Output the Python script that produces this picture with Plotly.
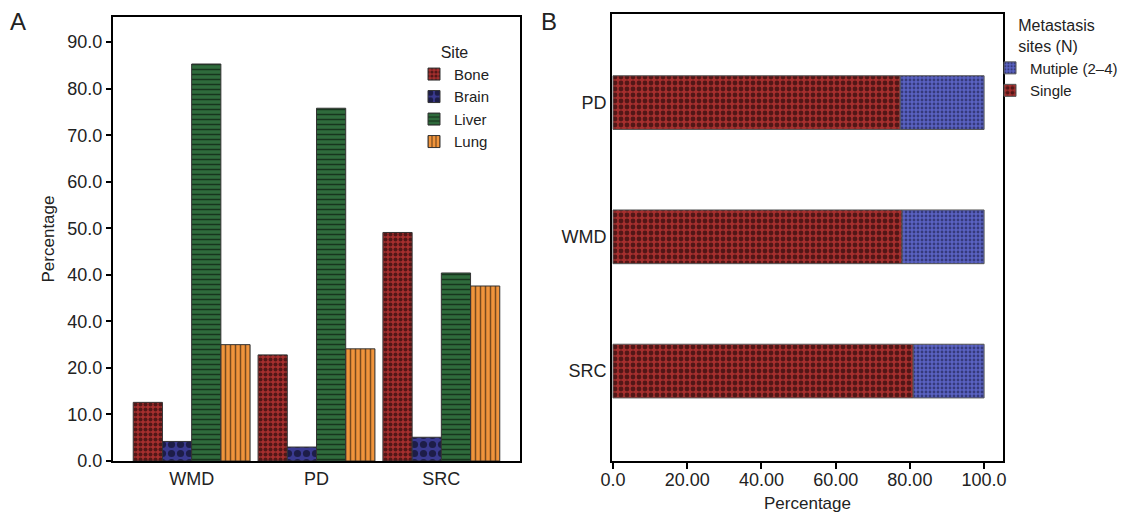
import plotly.graph_objects as go

# ---------------- data ----------------
groups_a = ["WMD", "PD", "SRC"]
bone = [12.6, 22.8, 49.1]
brain = [4.2, 3.0, 5.1]
liver = [85.3, 75.8, 40.4]
lung = [25.0, 24.1, 37.6]
y_tickvals_a = [0, 10, 20, 30, 40, 50, 60, 70, 80, 90]
y_ticktext_a = ["0.0", "10.0", "20.0", "40.0", "40.0", "50.0", "60.0", "70.0", "80.0", "90.0"]

groups_b = ["SRC", "WMD", "PD"]
single = [80.9, 77.9, 77.4]
multiple = [19.1, 22.1, 22.6]
x_tickvals_b = [0, 20, 40, 60, 80, 100]
x_ticktext_b = ["0.0", "20.00", "40.00", "60.00", "80.00", "100.0"]

OFF = 8  # page body margin
W, H = 1135 - OFF, 517 - OFF
FONT = "Liberation Sans, Arial, sans-serif"
TXT = "#222222"


def fx(p):
    return (p - OFF) / W


def fy(p):
    return 1 - (p - OFF) / H


def px_x(a, b):
    return [fx(a), fx(b)]


def px_y(top, bottom):
    return [fy(bottom), fy(top)]


fig = go.Figure()

site_styles = [
    ("Bone", bone, "#a52f2e", ".", 5, 0.5),
    ("Brain", brain, "#3a3a90", ".", 9, 0.5),
    ("Liver", liver, "#2f6b3c", "-", 5, 0.3),
    ("Lung", lung, "#f0943c", "|", 5, 0.3),
]
for name, vals, col, shape, size, sol in site_styles:
    fig.add_trace(go.Bar(
        x=groups_a, y=vals, name=name, xaxis="x", yaxis="y",
        marker=dict(color=col, line=dict(color="#333333", width=1),
                    pattern=dict(shape=shape, bgcolor=col, fgcolor="black",
                                 size=size, solidity=sol, fillmode="overlay")),
        legend="legend",
    ))

fig.add_trace(go.Bar(
    y=groups_b, x=single, name="Single", orientation="h", xaxis="x2", yaxis="y2",
    offsetgroup="b", width=0.4,
    marker=dict(color="#a52f2e", line=dict(color="#555555", width=1),
                pattern=dict(shape=".", bgcolor="#a52f2e", fgcolor="black",
                             size=6, solidity=0.5, fillmode="overlay")),
    legend="legend2",
))
fig.add_trace(go.Bar(
    y=groups_b, x=multiple, base=single, name="Mutiple (2\u20134)", orientation="h",
    xaxis="x2", yaxis="y2", offsetgroup="b", width=0.4,
    marker=dict(color="#5a62c2", line=dict(color="#555555", width=1),
                pattern=dict(shape=".", bgcolor="#5a62c2", fgcolor="#111133",
                             size=4, solidity=0.4, fillmode="overlay")),
    legend="legend2",
))

axis_common = dict(showline=True, linecolor="black", linewidth=2, mirror=True,
                   showgrid=False, zeroline=False, automargin=False,
                   tickfont=dict(family=FONT, size=18, color=TXT))

fig.update_layout(
    width=W, height=H,
    margin=dict(l=0, r=0, t=0, b=0, autoexpand=False),
    paper_bgcolor="white", plot_bgcolor="white",
    barmode="group", bargap=0.064, bargroupgap=0,
    font=dict(family=FONT, color=TXT, size=16),
    xaxis=dict(domain=px_x(113, 520), anchor="y", range=[-0.63, 2.63],
               ticks="", **axis_common),
    yaxis=dict(domain=px_y(17, 461), anchor="x", range=[0, 95.4],
               tickvals=y_tickvals_a, ticktext=y_ticktext_a,
               ticks="outside", ticklen=5, tickwidth=1.5, tickcolor="black",
               title=dict(text="Percentage", font=dict(family=FONT, size=17, color=TXT), standoff=8),
               **axis_common),
    xaxis2=dict(domain=px_x(612, 1003), anchor="y2", range=[-0.27, 105.1],
                tickvals=x_tickvals_b, ticktext=x_ticktext_b,
                ticks="outside", ticklen=6, tickwidth=1.5, tickcolor="black",
                ticklabelstandoff=-5,
                title=dict(text="Percentage", font=dict(family=FONT, size=17, color=TXT), standoff=9),
                **axis_common),
    yaxis2=dict(domain=px_y(14, 461), anchor="x2", range=[-0.67, 2.66],
                ticks="", **axis_common),
    legend=dict(x=fx(414), y=fy(37), xanchor="left", yanchor="top",
                bgcolor="rgba(0,0,0,0)", traceorder="normal",
                title=dict(text="Site", side="top center", font=dict(family=FONT, size=16, color=TXT)),
                font=dict(family=FONT, size=15, color=TXT),
                itemwidth=30, tracegroupgap=0),
    legend2=dict(x=fx(990), y=fy(10), xanchor="left", yanchor="top",
                 bgcolor="rgba(0,0,0,0)", traceorder="reversed",
                 title=dict(text="Metastasis<br>sites (N)", side="top center",
                            font=dict(family=FONT, size=16, color=TXT)),
                 font=dict(family=FONT, size=15, color=TXT),
                 itemwidth=30, tracegroupgap=0),
    annotations=[
        dict(text="A", x=fx(18), y=fy(22), xref="paper", yref="paper",
             xanchor="center", yanchor="middle",
             showarrow=False, font=dict(family=FONT, size=24, color=TXT)),
        dict(text="B", x=fx(549), y=fy(22), xref="paper", yref="paper",
             xanchor="center", yanchor="middle",
             showarrow=False, font=dict(family=FONT, size=24, color=TXT)),
    ],
)

fig.write_html("out.html")
